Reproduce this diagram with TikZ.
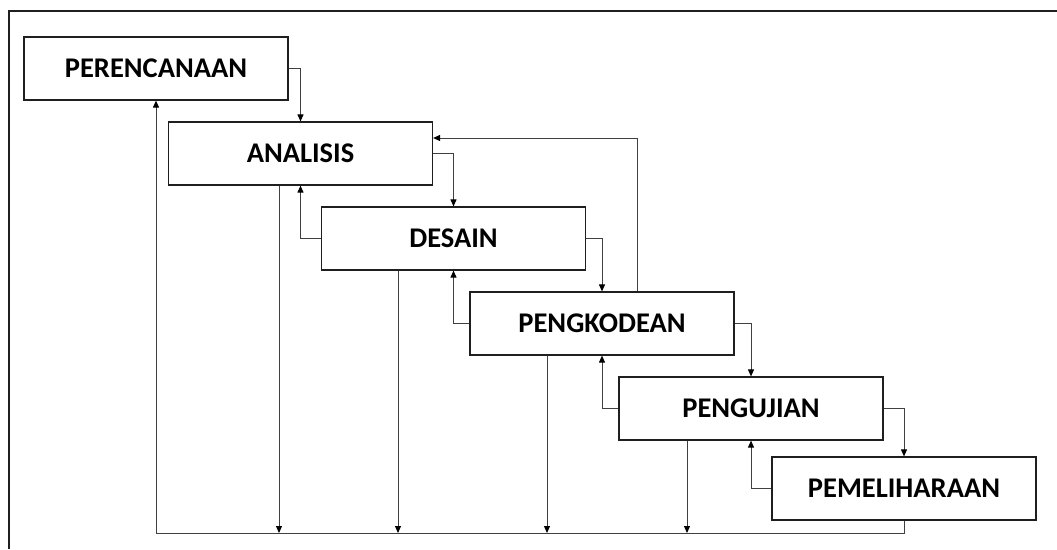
\documentclass[tikz,border=0pt]{standalone}
\usepackage{fontspec}
\setmainfont{Carlito}
\usetikzlibrary{arrows.meta,calc}
\definecolor{boxline}{HTML}{1F1F1F}
\definecolor{conn}{HTML}{404040}
\tikzset{
  stage/.style={draw=boxline, line width=1.2pt, minimum width=264pt, minimum height=63pt,
    inner sep=0pt, font=\fontsize{28.5}{34}\selectfont\bfseries, text=black},
  link/.style={draw=conn, line width=1pt, -{Triangle[length=7pt,width=6pt,color=black]}},
  frameline/.style={draw=boxline, line width=1.4pt}
}
\begin{document}
\begin{tikzpicture}[x=1pt,y=-1pt]
\useasboundingbox (0,0) rectangle (1057,549);
\coordinate (fa) at (9,549);
\coordinate (fb) at (9,11);
\coordinate (fc) at (1057,11);
\draw[frameline] (fa) -- (fb) -- (fc);

\node[stage] (per) at (156,68.5) {PERENCANAAN};
\node[stage] (ana) at (300.5,153.5) {ANALISIS};
\node[stage] (des) at (453.5,238.5) {DESAIN};
\node[stage] (kod) at (602,323.5) {PENGKODEAN};
\node[stage] (uji) at (751,408.5) {PENGUJIAN};
\node[stage] (pem) at (904,488.5) {PEMELIHARAAN};

% forward
\draw[link] (per.east) -| (ana.north);
\draw[link] (ana.east) -| (des.north);
\draw[link] (des.east) -| (kod.north);
\draw[link] (kod.east) -| (uji.north);
\draw[link] (uji.east) -| (pem.north);

% backward
\draw[link] (des.west) -| (ana.south);
\draw[link] (kod.west) -| (des.south);
\draw[link] (uji.west) -| (kod.south);
\draw[link] (pem.west) -| (uji.south);

% feedback from coding to analysis
\coordinate (fbk) at ($(kod.north)+(35,0)$);
\coordinate (fbt) at (637,138);
\coordinate (fbe) at ($(ana.east)+(0,-15.5)$);
\draw[link] (fbk) -- (fbt) -- (fbe);

% bottom line
\coordinate (b1) at ($(ana.south)+(-21.5,0)$);
\coordinate (b2) at ($(des.south)+(-55.5,0)$);
\coordinate (b3) at ($(kod.south)+(-55,0)$);
\coordinate (b4) at ($(uji.south)+(-64,0)$);
\coordinate (bot) at (0,533);
\draw[link] (b1) -- (b1 |- bot);
\draw[link] (b2) -- (b2 |- bot);
\draw[link] (b3) -- (b3 |- bot);
\draw[link] (b4) -- (b4 |- bot);
\draw[link] (pem.south) |- (bot -| per.south) -- (per.south);
\end{tikzpicture}
\end{document}
